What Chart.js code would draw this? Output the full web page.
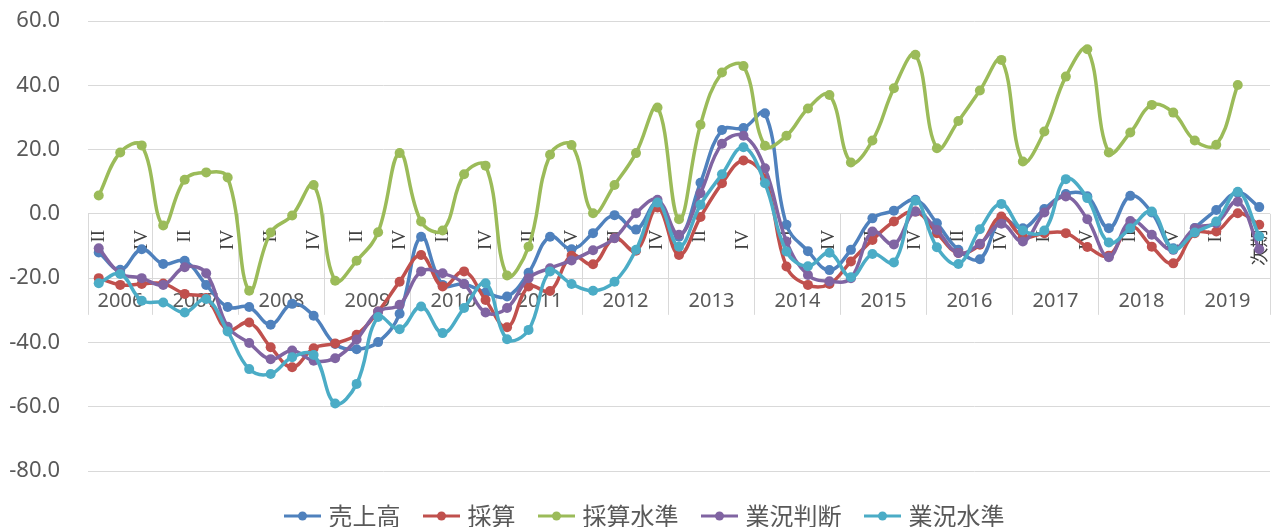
<!DOCTYPE html>
<html>
<head>
<meta charset="utf-8">
<script src="https://cdn.jsdelivr.net/npm/chart.js@4.4.1/dist/chart.umd.min.js"></script>
<style>
  html, body { margin: 0; padding: 0; background: #fff; }
  canvas { display: block; }
</style>
</head>
<body>
<canvas id="chart" width="1275" height="527"></canvas>
<script>
// category axis: quarter per point, grouped by year (2019 group ends with 次期)
const quarters = [
  'II', 'III', 'IV',
  'I', 'II', 'III', 'IV',
  'I', 'II', 'III', 'IV',
  'I', 'II', 'III', 'IV',
  'I', 'II', 'III', 'IV',
  'I', 'II', 'III', 'IV',
  'I', 'II', 'III', 'IV',
  'I', 'II', 'III', 'IV',
  'I', 'II', 'III', 'IV',
  'I', 'II', 'III', 'IV',
  'I', 'II', 'III', 'IV',
  'I', 'II', 'III', 'IV',
  'I', 'II', 'III', 'IV',
  'I', 'II', 'III', '次期'
]
const years = ['2006', '2007', '2008', '2009', '2010', '2011', '2012',
  '2013', '2014', '2015', '2016', '2017', '2018', '2019']
const yearSpans = [3, 4, 4, 4, 4, 4, 4, 4, 4, 4, 4, 4, 4, 4]

const seriesNames = ['売上高', '採算', '採算水準', '業況判断', '業況水準']
const colors = ['#4F81BD', '#C0504D', '#9BBB59', '#8064A2', '#4BACC6']

const sales = [
  -12.0, -17.4, -11.0,
  -15.6, -14.6, -22.1, -29.0,
  -29.0, -34.5, -28.0, -31.7,
  -40.5, -42.1, -39.9, -31.1,
  -7.1, -22.1, -21.8, -24.5,
  -25.7, -18.3, -7.1, -11.0,
  -6.0, -0.4, -4.9, 3.5,
  -7.1, 9.7, 26.1, 26.7,
  31.3, -3.4, -11.6, -17.5,
  -11.2, -1.4, 1.0, 4.4,
  -2.9, -11.2, -14.1, -1.7,
  -4.5, 1.5, 6.2, 5.5,
  -4.5, 5.6, 0.4, -10.7,
  -4.4, 1.2, 6.6, 2.1
]
const profit = [
  -20.0, -22.1, -21.8,
  -21.7, -24.9, -26.2, -36.1,
  -33.8, -41.5, -47.7, -41.8,
  -40.3, -37.6, -30.4, -21.1,
  -12.8, -22.6, -17.9, -26.8,
  -35.3, -22.6, -24.0, -13.0,
  -15.7, -7.5, -11.5, 2.0,
  -12.8, -1.0, 9.5, 16.6,
  11.0, -16.4, -22.1, -21.8,
  -14.8, -8.1, -2.4, 0.7,
  -6.0, -12.2, -9.6, -0.8,
  -7.1, -6.0, -6.0, -10.3,
  -13.0, -3.9, -10.2, -15.4,
  -6.0, -5.5, 0.2, -3.4
]
const profitLevel = [
  5.7, 19.1, 21.3,
  -3.6, 10.6, 12.9, 11.3,
  -23.9, -5.8, -0.5, 9.0,
  -20.8, -14.6, -5.7, 18.9,
  -2.4, -5.2, 12.3, 15.0,
  -19.2, -10.2, 18.4, 21.4,
  0.2, 9.0, 18.9, 33.1,
  -1.7, 27.7, 44.0, 46.0,
  21.2, 24.3, 32.8, 37.0,
  16.0, 22.8, 39.1, 49.5,
  20.4, 28.9, 38.4, 47.9,
  16.3, 25.6, 42.7, 51.2,
  19.1, 25.3, 33.9, 31.5,
  22.8, 21.5, 40.1, null
]
const business = [
  -10.7, -18.5, -20.0,
  -22.1, -16.6, -18.5, -35.1,
  -40.2, -45.2, -42.5, -45.7,
  -44.9, -39.1, -30.4, -28.3,
  -17.9, -18.5, -21.8, -30.7,
  -29.3, -20.0, -16.9, -14.5,
  -11.3, -7.6, 0.2, 4.4,
  -6.5, 6.4, 21.8, 24.3,
  14.2, -8.6, -19.0, -21.0,
  -20.0, -5.5, -9.5, 0.7,
  -5.0, -12.2, -9.3, -3.1,
  -8.6, 0.4, 5.4, -1.7,
  -13.5, -2.2, -6.5, -11.2,
  -4.5, -2.9, 3.8, -11.0
]
const businessLevel = [
  -21.6, -18.7, -27.0,
  -27.6, -30.7, -26.5, -36.6,
  -48.3, -49.8, -44.6, -43.9,
  -59.0, -52.9, -32.1, -35.9,
  -28.8, -37.1, -29.3, -21.6,
  -39.0, -36.1, -17.9, -21.8,
  -23.9, -21.1, -11.2, 3.5,
  -10.2, 2.8, 12.3, 20.7,
  9.5, -11.7, -16.3, -12.1,
  -19.7, -12.5, -15.1, 4.1,
  -10.4, -15.6, -4.8, 3.1,
  -5.2, -5.2, 10.8, 4.9,
  -8.9, -4.5, 0.7, -11.0,
  -5.8, -2.4, 6.9, -7.0
]
const seriesValues = [sales, profit, profitLevel, business, businessLevel]

// line-with-dot legend markers, like Excel
function makeMarker(color) {
  const c = document.createElement('canvas')
  c.width = 37
  c.height = 12
  const g = c.getContext('2d')
  g.strokeStyle = color
  g.lineWidth = 3
  g.beginPath()
  g.moveTo(0, 6)
  g.lineTo(37, 6)
  g.stroke()
  g.fillStyle = color
  g.beginPath()
  g.arc(18.5, 6, 4.5, 0, Math.PI * 2)
  g.fill()
  return c
}
const markers = colors.map(makeMarker)

// draws the two-level category axis (quarters + years) sitting on the 0 line
const categoryAxis = {
  id: 'categoryAxis',
  afterLayout(chart) {
    // Excel centres the legend a little right of the canvas middle
    chart.legend.left += 10
    chart.legend.right += 10
  },
  beforeDatasetsDraw(chart) {
    const {ctx, scales: {x, y}} = chart
    const zero = y.getPixelForValue(0)
    const step = x.getPixelForValue(1) - x.getPixelForValue(0)
    ctx.save()
    ctx.strokeStyle = '#D9D9D9'
    ctx.lineWidth = 1
    ctx.fillStyle = '#595959'
    ctx.font = '20px "Noto Sans"'
    ctx.textAlign = 'center'
    ctx.textBaseline = 'middle'
    let start = 0
    years.forEach((year, k) => {
      const left = Math.round(x.getPixelForValue(start) - step / 2) + 0.5
      const right = Math.round(x.getPixelForValue(start + yearSpans[k] - 1) + step / 2) + 0.5
      ctx.beginPath()
      ctx.moveTo(left, zero)
      ctx.lineTo(left, zero + 101)
      if (k === years.length - 1) {
        ctx.moveTo(right, zero)
        ctx.lineTo(right, zero + 101)
      }
      ctx.stroke()
      ctx.fillText(year, (left + right) / 2, zero + 87)
      start += yearSpans[k]
    })

    ctx.fillStyle = '#404040'
    ctx.textAlign = 'right'
    quarters.forEach((q, i) => {
      if (i % 2) return
      ctx.save()
      ctx.translate(x.getPixelForValue(i), zero + 16)
      ctx.rotate(-Math.PI / 2)
      ctx.font = /^[IV]+$/.test(q) ? '19px "Liberation Serif"' : '18px "Noto Sans CJK JP"'
      ctx.fillText(q, 0, 0)
      ctx.restore()
    })
    ctx.restore()
  }
}

const datasets = seriesNames.map((name, k) => ({
  label: name,
  data: seriesValues[k],
  borderColor: colors[k],
  backgroundColor: colors[k],
  pointBackgroundColor: colors[k],
  pointBorderColor: colors[k],
  pointRadius: 5,
  pointBorderWidth: 0,
  borderWidth: 3.5,
  tension: 0.4,
  order: seriesNames.length - k
}))

new Chart(document.getElementById('chart'), {
  type: 'line',
  data: {labels: quarters, datasets},
  plugins: [categoryAxis],
  options: {
    responsive: false,
    animation: false,
    devicePixelRatio: 1,
    layout: {padding: {left: 0, right: 2, top: 21, bottom: 0}},
    scales: {
      x: {
        offset: true,
        grid: {display: false},
        border: {display: false},
        ticks: {display: false},
        afterFit: (s) => { s.height = 6 }
      },
      y: {
        min: -80,
        max: 60,
        ticks: {
          stepSize: 20,
          padding: 28,
          color: '#595959',
          font: {family: 'Noto Sans', size: 22},
          callback: (v) => v.toFixed(1)
        },
        grid: {color: '#D9D9D9', drawTicks: false},
        border: {display: false},
        afterFit: (s) => {
          s.width = 88
          // tick padding would otherwise push the plot top down
          s.paddingTop = 0
          s.paddingBottom = 0
        }
      }
    },
    plugins: {
      tooltip: {enabled: false},
      legend: {
        position: 'bottom',
        maxHeight: 50,
        labels: {
          color: '#595959',
          font: {family: 'Noto Sans CJK JP', size: 24},
          padding: 27,
          usePointStyle: true,
          pointStyleWidth: 28,
          sort: (a, b) => a.datasetIndex - b.datasetIndex,
          generateLabels(chart) {
            const items = Chart.defaults.plugins.legend.labels.generateLabels(chart)
            items.forEach((item) => { item.pointStyle = markers[item.datasetIndex] })
            return items
          }
        }
      }
    }
  }
})
</script>
</body>
</html>
